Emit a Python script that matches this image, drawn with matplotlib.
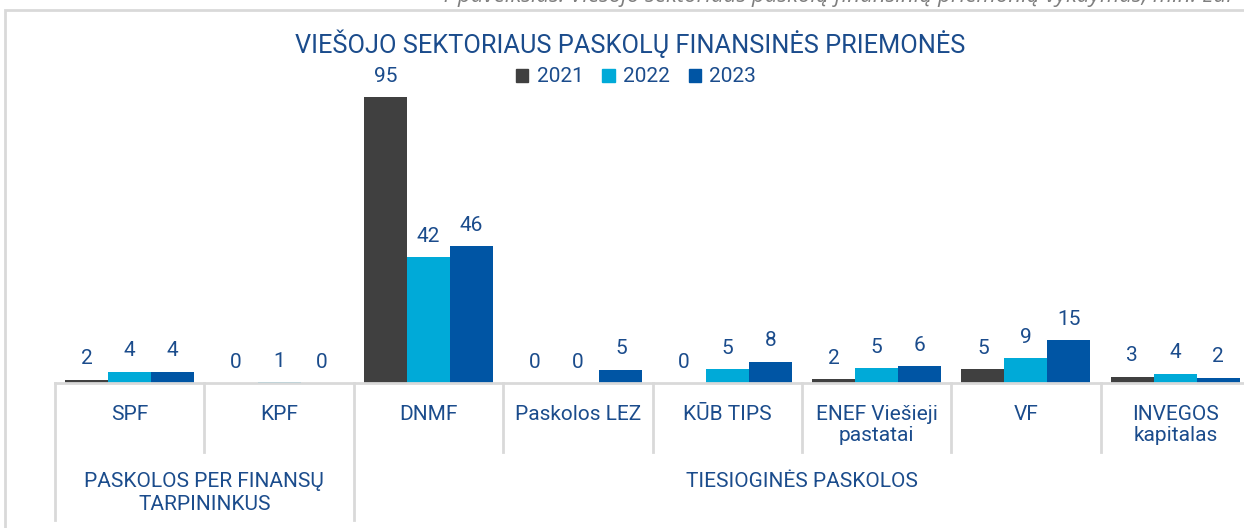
import matplotlib
matplotlib.use('Agg')
import matplotlib.pyplot as plt
from matplotlib.patches import Rectangle, Patch
import numpy as np

plt.rcParams['font.family'] = ['Roboto', 'DejaVu Sans']

# data (mln. Eur)
categories = ['SPF', 'KPF', 'DNMF', 'Paskolos LEZ', 'KŪB TIPS',
              'ENEF Viešieji\npastatai', 'VF', 'INVEGOS\nkapitalas']
years = ['2021', '2022', '2023']
vals_2021 = [1.1, 0, 95, 0, 0, 1.3, 4.6, 2.1]
vals_2022 = [3.8, 0.2, 41.9, 0, 4.6, 4.9, 8.3, 3.1]
vals_2023 = [3.8, 0, 45.5, 4.4, 7.1, 5.5, 14.3, 1.8]
labels_2021 = [2, 0, 95, 0, 0, 2, 5, 3]
labels_2022 = [4, 1, 42, 0, 5, 5, 9, 4]
labels_2023 = [4, 0, 46, 5, 8, 6, 15, 2]
groups = ['PASKOLOS PER FINANSŲ\nTARPININKUS', 'TIESIOGINĖS PASKOLOS']
group_sizes = [2, 6]

title = 'VIEŠOJO SEKTORIAUS PASKOLŲ FINANSINĖS PRIEMONĖS'
caption = '1 paveikslas. Viešojo sektoriaus paskolų finansinių priemonių vykdymas, mln. Eur'

colors = ['#404040', '#00AAD8', '#0055A4']
navy = '#1B4C8C'
grid_col = '#D9D9D9'

W, H = 1244, 528
fig = plt.figure(figsize=(W / 100, H / 100), dpi=100)

def fy(px):
    return 1 - px / H

# axes: left edge 55px, baseline at 383px, top at 90px
ax_top, ax_base = 90, 383
ax = fig.add_axes([55 / W, fy(ax_base), (1250 - 55) / W, (ax_base - ax_top) / H])
ax.set_xlim(-0.5, len(categories) - 0.5)
ax.set_ylim(0, (ax_base - ax_top) / 3.01)
ax.axis('off')

def ya(px):
    return (ax_base - px) / (ax_base - ax_top)

x = np.arange(len(categories))
w = 0.288
series = [(vals_2021, labels_2021), (vals_2022, labels_2022), (vals_2023, labels_2023)]
for i, (vals, labs) in enumerate(series):
    xs = x + (i - 1) * w
    ax.bar(xs, vals, width=w, color=colors[i], label=years[i])
    for xi, v, lab in zip(xs, vals, labs):
        ax.annotate(str(lab), (xi, v), xytext=(0, 11), textcoords='offset points',
                    ha='center', va='baseline', color=navy, fontsize=15)

# category table under the axis
tr = ax.get_xaxis_transform()
ax.plot([-0.5, len(categories) - 0.5], [0, 0], color=grid_col, lw=2,
        transform=tr, clip_on=False)
bounds = np.cumsum([0] + group_sizes) - 0.5
for b in np.arange(len(categories) + 1) - 0.5:
    bottom = ya(520) if b in bounds else ya(452)
    ax.plot([b, b], [0, bottom], color=grid_col, lw=2, transform=tr, clip_on=False)
for xi, cat in zip(x, categories):
    ax.text(xi, ya(405), cat, transform=tr, ha='center', va='top', color=navy,
            fontsize=15, linespacing=1.12)
for g, lo, hi in zip(groups, bounds[:-1], bounds[1:]):
    ax.text((lo + hi) / 2, ya(472), g, transform=tr, ha='center', va='top',
            color=navy, fontsize=15, linespacing=1.3)

# frame and texts (caption is cut by the top edge, as in the source)
fig.add_artist(Rectangle((5 / W, -0.1), 2, fy(10) + 0.1, transform=fig.transFigure,
                         fill=False, ec=grid_col, lw=2))
fig.text(440 / W, fy(2), caption, ha='left', va='baseline', color='#7F7F7F',
         fontsize=16, style='italic', family=['Open Sans', 'DejaVu Sans'])
fig.text(630 / W, fy(44), title, ha='center', va='center', color=navy, fontsize=18.3)

handles = [Patch(color=c) for c in colors]
fig.legend(handles, years, loc='center', bbox_to_anchor=(636 / W, fy(77)), ncol=3,
           frameon=False, fontsize=15, handlelength=0.6, handleheight=0.6,
           handletextpad=0.4, columnspacing=0.9, labelcolor=navy)

fig.savefig('out.png', dpi=100)
